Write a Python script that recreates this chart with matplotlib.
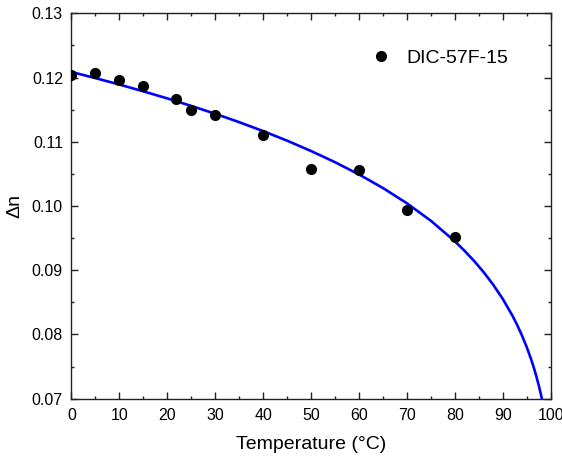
import matplotlib
matplotlib.use("Agg")
import matplotlib.pyplot as plt
from matplotlib.ticker import MultipleLocator

plt.rcParams['font.family'] = ['Liberation Sans', 'DejaVu Sans']

# Measured data
temp = [0, 5, 10, 15, 21.8, 25, 30, 40, 50, 60, 70, 80]
dn = [0.1204, 0.1207, 0.1196, 0.1187, 0.1166, 0.1149, 0.1141, 0.1110,
      0.1058, 0.1056, 0.0994, 0.0951]

# Fit curve
fit_t = [0, 5, 10, 15, 20, 25, 30, 35, 40, 45, 50, 55, 60, 65, 70, 75, 80,
         82, 84, 86, 88, 90, 92, 93, 94, 95, 96, 96.5, 97, 97.5, 98, 98.3, 98.5]
fit_dn = [0.12087, 0.11991, 0.11891, 0.11785, 0.11675, 0.11558, 0.11436,
          0.11305, 0.11166, 0.11017, 0.10856, 0.10682, 0.10491, 0.10280,
          0.10042, 0.09770, 0.09451, 0.09305, 0.09146, 0.08971, 0.08775,
          0.08553, 0.08295, 0.08148, 0.07985, 0.07803, 0.07595, 0.07478,
          0.07350, 0.07210, 0.07053, 0.06949, 0.06875]

legend_label = "DIC-57F-15"

fig = plt.figure(figsize=(5.62, 4.62), dpi=100)
ax = fig.add_axes([0.1269, 0.137, 0.853, 0.8343])

ax.plot(fit_t, fit_dn, color='#0000FF', lw=1.9, zorder=2)
ax.plot(temp, dn, 'o', color='black', ms=7, label=legend_label, zorder=3)

ax.set_xlim(0, 100)
ax.set_ylim(0.07, 0.13)
ax.xaxis.set_major_locator(MultipleLocator(10))
ax.xaxis.set_minor_locator(MultipleLocator(5))
ax.yaxis.set_major_locator(MultipleLocator(0.01))
ax.yaxis.set_minor_locator(MultipleLocator(0.005))
ax.yaxis.set_major_formatter(plt.FuncFormatter(lambda v, p: f"{v:.2f}"))

ax.tick_params(which='both', direction='in', top=True, right=True,
               labelsize=11.5, colors='#222222', labelcolor='black', width=1)
ax.tick_params(which='major', length=5, pad=6)
ax.tick_params(which='minor', length=2.5)
ax.tick_params(axis='x', pad=7)
for s in ax.spines.values():
    s.set_linewidth(1.0)
    s.set_color('#222222')

ax.set_xlabel("Temperature (°C)", fontsize=14, labelpad=9)
ax.set_ylabel("Δn", fontsize=14, labelpad=6)

ax.legend(loc='upper right', bbox_to_anchor=(0.947, 0.952), frameon=False,
          fontsize=14, handletextpad=0.7, handlelength=1.2)

fig.savefig("out.png", dpi=100)
